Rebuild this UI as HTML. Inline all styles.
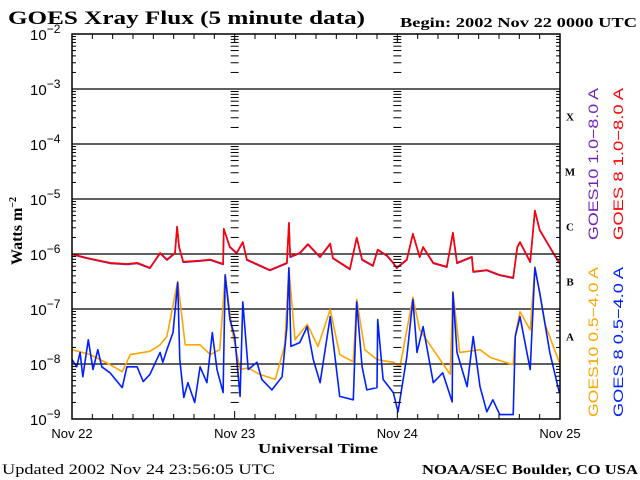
<!DOCTYPE html>
<html><head><meta charset="utf-8"><style>
body{margin:0;background:#fff;}
svg{display:block;}
.s{font-family:"Liberation Serif",serif;}
.a{font-family:"Liberation Sans",sans-serif;}
</style></head><body>
<svg id="chart" width="640" height="480" viewBox="0 0 640 480" xmlns="http://www.w3.org/2000/svg">
<rect width="640" height="480" fill="#fff"/>
<text class="s" x="8" y="24" font-size="19" font-weight="bold" textLength="357" lengthAdjust="spacingAndGlyphs">GOES Xray Flux (5 minute data)</text>
<text class="s" x="400" y="27" font-size="14" font-weight="bold" textLength="237" lengthAdjust="spacingAndGlyphs">Begin:  2002 Nov 22 0000 UTC</text>
<text class="s" transform="translate(22,231) rotate(-90)" text-anchor="middle" font-size="16" font-weight="bold">Watts m<tspan dy="-6" font-size="10">−2</tspan></text>
<text class="s" x="258" y="453" font-size="14" font-weight="bold" textLength="120" lengthAdjust="spacingAndGlyphs">Universal Time</text>
<text class="s" x="2" y="474" font-size="15" textLength="273" lengthAdjust="spacingAndGlyphs">Updated 2002 Nov 24 23:56:05 UTC</text>
<text class="s" x="422" y="474" font-size="14" font-weight="bold" textLength="216" lengthAdjust="spacingAndGlyphs">NOAA/SEC Boulder, CO USA</text>
<g id="grid"></g><g id="series"></g><g id="axes"></g>
<text class="a" transform="translate(598,164) rotate(-90)" text-anchor="middle" font-size="14" fill="#7020c0" textLength="152" lengthAdjust="spacingAndGlyphs">GOES10 1.0−8.0 A</text>
<text class="a" transform="translate(623,164) rotate(-90)" text-anchor="middle" font-size="14" fill="#ff0000" textLength="152" lengthAdjust="spacingAndGlyphs">GOES 8 1.0−8.0 A</text>
<text class="a" transform="translate(598,342) rotate(-90)" text-anchor="middle" font-size="14" fill="#ffa500" textLength="150" lengthAdjust="spacingAndGlyphs">GOES10 0.5−4.0 A</text>
<text class="a" transform="translate(623,342) rotate(-90)" text-anchor="middle" font-size="14" fill="#0020ff" textLength="150" lengthAdjust="spacingAndGlyphs">GOES 8 0.5−4.0 A</text>
</svg>
<script>
const dayLabels = ["Nov 22","Nov 23","Nov 24","Nov 25"];
const decadeExps = [-2,-3,-4,-5,-6,-7,-8,-9];
const classLabels = ["X","M","C","B","A"];
const classExps = [-4,-5,-6,-7,-8];
const longT = [0,2.2,5.6,8.1,9.6,11.5,13.0,14.0,15.2,15.5,15.8,16.4,18.9,20.4,22.3,22.4,23.3,24.3,25.2,25.8,29.2,31.7,32.0,32.2,33.6,34.8,36.6,38.1,38.5,41.0,42.0,42.8,44.4,45.1,46.5,47.4,47.9,49.4,50.3,51.3,51.8,53.3,55.3,56.2,56.8,59.0,59.2,61.2,63.1,65.1,65.7,66.1,67.6,68.3,69.0,70.5,71.9];
const goes8Long = [-6.00,-6.07,-6.16,-6.18,-6.16,-6.25,-5.98,-6.10,-5.98,-5.50,-5.87,-6.14,-6.12,-6.10,-6.18,-5.54,-5.87,-5.98,-5.78,-6.10,-6.29,-6.16,-5.43,-6.05,-5.98,-5.82,-6.05,-5.81,-6.07,-6.27,-5.70,-6.10,-6.21,-5.92,-6.03,-6.16,-6.25,-6.10,-5.63,-6.05,-5.87,-6.16,-6.23,-5.61,-6.16,-6.05,-6.32,-6.29,-6.38,-6.43,-5.87,-5.78,-6.14,-5.21,-5.56,-5.87,-6.16];
const goes10Long = [-6.01,-6.08,-6.17,-6.19,-6.17,-6.26,-5.99,-6.11,-5.99,-5.51,-5.88,-6.15,-6.13,-6.11,-6.19,-5.55,-5.88,-5.99,-5.79,-6.11,-6.30,-6.17,-5.44,-6.06,-5.99,-5.83,-6.06,-5.82,-6.08,-6.28,-5.71,-6.11,-6.22,-5.93,-6.04,-6.17,-6.26,-6.11,-5.64,-6.06,-5.88,-6.17,-6.24,-5.62,-6.17,-6.06,-6.33,-6.30,-6.39,-6.44,-5.88,-5.79,-6.15,-5.22,-5.57,-5.88,-6.17];
const shortT8 = [0,0.7,1.2,1.6,2.4,3.1,3.8,4.4,5.6,7.4,8.1,9.6,10.5,11.5,13.0,13.4,14.0,14.9,15.6,15.9,16.5,17.1,18.1,18.9,19.9,20.7,21.4,22.3,22.6,23.3,24.0,24.8,25.2,26.0,27.3,28.0,29.5,31.0,31.7,32.0,32.3,33.6,34.7,35.6,36.6,38.1,39.5,41.5,42.0,42.8,43.5,45.0,45.1,45.9,47.4,48.1,49.4,50.3,50.9,51.8,53.3,54.7,56.1,56.2,56.8,58.3,59.2,60.2,61.2,62.1,63.1,65.1,65.4,66.1,67.6,68.3,69.0,70.5,71.9];
const goes8Short = [-7.92,-8.05,-7.79,-8.23,-7.56,-8.10,-7.74,-8.05,-8.16,-8.43,-8.05,-8.05,-8.32,-8.19,-7.79,-7.97,-7.74,-7.43,-6.52,-7.92,-8.61,-8.34,-8.70,-8.05,-8.34,-7.43,-8.10,-8.52,-6.38,-7.19,-7.50,-8.59,-6.87,-8.10,-7.97,-8.28,-8.47,-8.23,-7.32,-6.25,-7.68,-7.61,-7.32,-7.92,-8.34,-7.14,-8.59,-8.65,-6.87,-8.05,-8.47,-8.43,-7.19,-8.28,-8.52,-8.87,-7.87,-6.83,-7.79,-7.32,-8.34,-8.16,-8.69,-6.70,-7.79,-8.41,-7.50,-8.41,-8.87,-8.65,-8.92,-8.92,-7.50,-7.14,-8.10,-6.25,-6.70,-7.79,-8.52];
const shortT10 = [0,2.7,5.6,7.4,8.6,11.5,13.0,14.0,15.6,16.7,18.9,20.4,21.8,22.6,23.6,24.8,26.0,27.7,30.0,31.4,32.0,32.9,34.7,36.3,38.1,39.5,41.5,42.0,43.2,45.0,47.4,48.4,50.3,51.3,53.3,55.8,56.2,57.2,60.2,61.7,63.9,65.1,65.4,66.1,67.6,68.3,69.8,71.9];
const goes10Short = [-7.74,-7.83,-8.01,-8.14,-7.83,-7.77,-7.65,-7.50,-6.50,-7.65,-7.65,-7.83,-7.74,-6.38,-7.38,-8.10,-8.07,-8.19,-8.28,-7.65,-6.25,-7.56,-7.28,-7.68,-7.01,-7.83,-7.96,-6.83,-7.74,-7.92,-7.97,-8.05,-6.79,-7.38,-7.74,-8.19,-6.68,-7.79,-7.74,-7.88,-7.97,-8.01,-7.47,-7.05,-7.38,-6.23,-7.28,-7.97];

const NS="http://www.w3.org/2000/svg";
const X0=72,X1=560,Y0=34,Y1=419;
const xs=h=>X0+h/72*(X1-X0);
const ys=l=>Y1-(l+9)/7*(Y1-Y0);
function mk(tag,attrs,parent){const e=document.createElementNS(NS,tag);for(const k in attrs)e.setAttribute(k,attrs[k]);parent.appendChild(e);return e;}
const grid=document.getElementById('grid'),axes=document.getElementById('axes'),ser=document.getElementById('series');
decadeExps.forEach(ex=>{
  const y=ys(ex);
  if(ex>-9&&ex<-2){const l=mk('line',{x1:X0,x2:X1,y1:y,y2:y,stroke:'#000','stroke-width':1.3},grid);
  
  }
  const t=mk('text',{x:30,y:y+6,'font-size':15,'font-family':'Liberation Sans, sans-serif'},axes);
  
  
  t.textContent='10';
  const sp=mk('tspan',{dy:-7,'font-size':12},t);sp.textContent=String(ex).replace('-','−');
});
const tickXs=[[X0,1],[X1,-1],[xs(24),0],[xs(48),0]];
for(let ex=-9;ex<-2;ex++){for(let m=1;m<=10;m++){
  const y=ys(ex+Math.log10(m));const len=(m===1||m===10)?8:4;
  tickXs.forEach(([x,d])=>{
    const a=d===0?x-len:x, b=d===0?x+len:x+d*len;
    const l=mk('line',{x1:a,x2:b,y1:y,y2:y,stroke:'#000','stroke-width':1},axes);
    
    
  });}}
const fr=mk('rect',{x:X0,y:Y0,width:X1-X0,height:Y1-Y0,fill:'none',stroke:'#000','stroke-width':1.5},axes);


for(let h=0;h<=72;h+=3){const x=xs(h);const len=h%24===0?8:5;
  [[Y1,-len],[Y0,len]].forEach(([y,d])=>{const l=mk('line',{x1:x,x2:x,y1:y,y2:y+d,stroke:'#000','stroke-width':1},axes);
  
  });}
dayLabels.forEach((d,i)=>{const t=mk('text',{x:xs(i*24),y:438,'text-anchor':'middle','font-size':13,'font-family':'Liberation Sans, sans-serif'},axes);
  
  
  t.textContent=d;});
classLabels.forEach((c,i)=>{const t=mk('text',{x:570,y:ys(classExps[i]+0.5)+4,'text-anchor':'middle','font-size':11,'font-weight':'bold','font-family':'Liberation Serif, serif'},axes);
  
  
  t.textContent=c;});
function line(T,V,color,name){
  let d='';T.forEach((t,i)=>{d+=(i?'L':'M')+xs(t).toFixed(1)+','+ys(V[i]).toFixed(1);});
  const p=mk('path',{d:d,fill:'none',stroke:color,'stroke-width':1.6,'stroke-linejoin':'round'},ser);
  
  
}
line(shortT10,goes10Short,'#ffa500','series-goes10-short');
line(shortT8,goes8Short,'#0020ff','series-goes8-short');
line(longT,goes10Long,'#7020c0','series-goes10-long');
line(longT,goes8Long,'#ff0000','series-goes8-long');
</script>
</body></html>
